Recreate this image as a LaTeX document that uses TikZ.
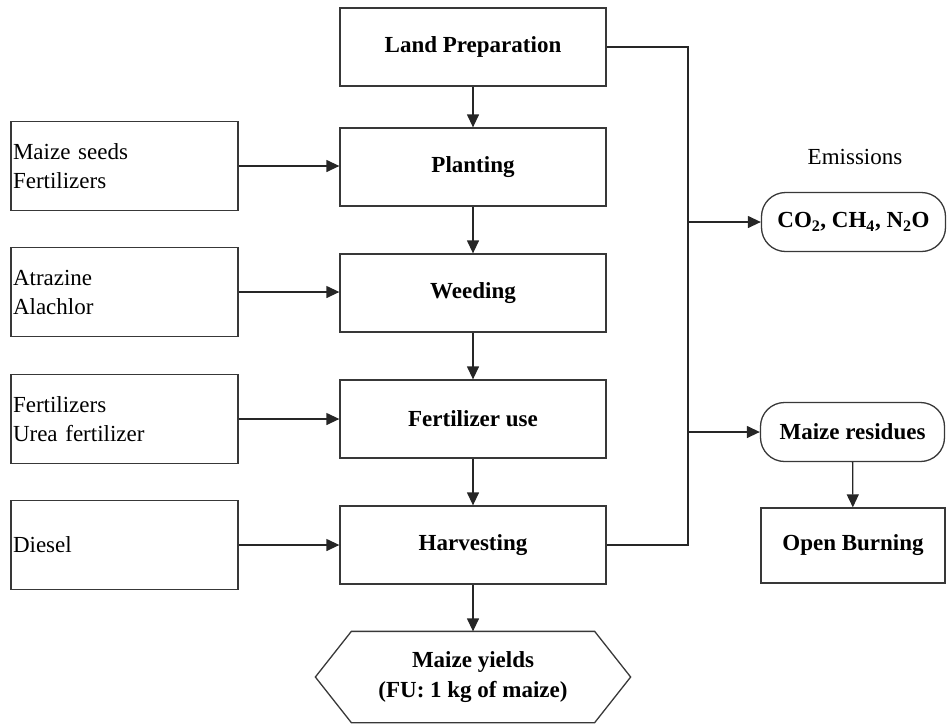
\documentclass[tikz,border=0pt]{standalone}
\usepackage{fontspec}
\setmainfont{Liberation Serif}
\usetikzlibrary{arrows.meta}
\begin{document}
\begin{tikzpicture}[x=1pt,y=-1pt,
  line width=1.3pt,
  stage/.style={draw=black!78, line width=1.3pt, fill=white, minimum width=266pt,
    minimum height=78pt, font=\fontsize{23}{27}\selectfont\bfseries, inner sep=0pt},
  input/.style={draw=black!78, line width=1.3pt, fill=white, minimum width=227pt,
    minimum height=89pt, text width=223pt, align=left, inner sep=0pt,
    font=\fontsize{23}{29}\selectfont},
  pill/.style={draw=black!78, line width=1.3pt, fill=white, rounded corners=24pt,
    minimum width=184pt, minimum height=59pt, inner sep=0pt,
    font=\fontsize{23}{27}\selectfont\bfseries},
  outbox/.style={draw=black!78, line width=1.3pt, fill=white, minimum width=184pt,
    minimum height=75pt, inner sep=0pt, font=\fontsize{23}{27}\selectfont\bfseries},
  link/.style={draw=black!85, line width=1.3pt},
  arr/.style={link, -{Triangle[length=13pt,width=12pt]}}
]
\useasboundingbox (0,0) rectangle (947,724);

% main process column
\node[stage] (land)  at (473,47)  {Land Preparation};
\node[stage] (plant) at (473,167) {Planting};
\node[stage] (weed)  at (473,293) {Weeding};
\node[stage] (fert)  at (473,419) {Fertilizer use};
\node[stage] (harv)  at (473,545) {Harvesting};

% inputs
\node[input] (seeds)  at (124.5,166) {Maize seeds\\Fertilizers};
\node[input] (herb)   at (124.5,292) {Atrazine\\Alachlor};
\node[input] (fertin) at (124.5,419) {Fertilizers\\Urea fertilizer};
\node[input] (diesel) at (124.5,545) {Diesel};

% final product (hexagon)
\node[font=\fontsize{23}{30}\selectfont\bfseries, align=center,
  minimum width=242pt, minimum height=90pt, inner sep=0pt] (yield) at (473,677)
  {Maize yields\\(FU: 1 kg of maize)};
\draw[draw=black!78, line width=1.3pt]
  (yield.north west) -- (yield.north east) -- ([xshift=36pt]yield.east)
  -- (yield.south east) -- (yield.south west) -- ([xshift=-36pt]yield.west) -- cycle;

% outputs
\node[font=\fontsize{23}{27}\selectfont] (emlabel) at (855,157) {Emissions};
\node[pill] (gas) at (853.5,222)
  {CO\textsubscript{2}, CH\textsubscript{4}, N\textsubscript{2}O};
\node[pill] (resid) at (852.5,432) {Maize residues};
\node[outbox] (burn) at (853,545.5) {Open Burning};

% flow down the column
\draw[arr] (land) -- (plant);
\draw[arr] (plant) -- (weed);
\draw[arr] (weed) -- (fert);
\draw[arr] (fert) -- (harv);
\draw[arr] (harv) -- (yield);

% inputs into stages
\draw[arr] (seeds.east)  -- (seeds.east -| plant.west);
\draw[arr] (herb.east)   -- (herb.east -| weed.west);
\draw[arr] (fertin.east) -- (fertin.east -| fert.west);
\draw[arr] (diesel.east) -- (diesel.east -| harv.west);

% collector line to the outputs
\coordinate (jtop) at (688,47);
\coordinate (jbot) at (688,545);
\draw[link] (land.east) -- (jtop) -- (jbot) -- (harv.east);
\draw[arr] (gas.west -| jtop) -- (gas.west);
\draw[arr] (resid.west -| jtop) -- (resid.west);
\draw[arr] (resid) -- (burn);
\end{tikzpicture}
\end{document}
